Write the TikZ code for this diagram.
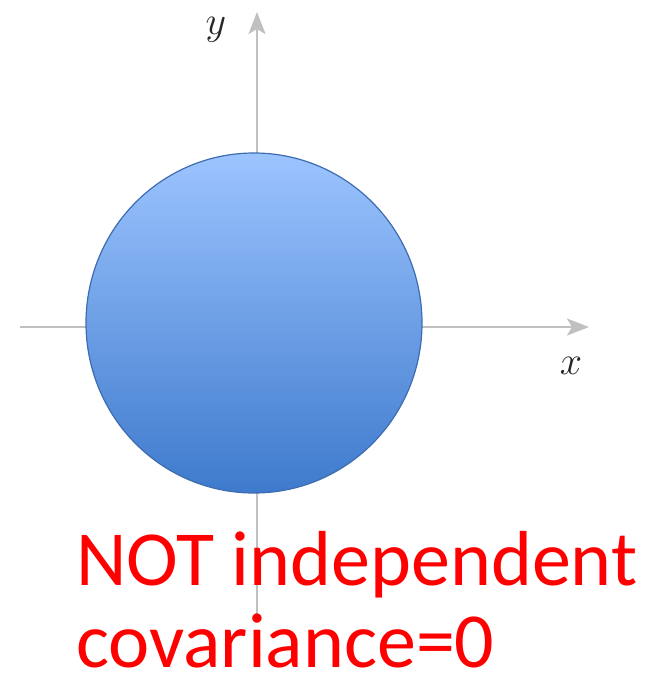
\RequirePackage{fix-cm}
\documentclass[tikz,border=0pt]{standalone}
\usepackage{fontspec}
\newfontfamily\calib{Carlito}
\usetikzlibrary{arrows.meta,shapes.geometric}
\definecolor{axisgray}{RGB}{192,192,192}
\definecolor{discTop}{RGB}{156,196,255}
\definecolor{discBot}{RGB}{62,122,204}
\definecolor{discEdge}{RGB}{62,108,176}
\begin{document}
\begin{tikzpicture}[x=1pt,y=-1pt,
  axisline/.style={draw=axisgray,line width=2.2pt,-{Stealth[length=22pt,width=17pt,inset=5pt]}},
  redtext/.style={text=red,font=\calib\fontsize{78}{78}\selectfont,anchor=base west,inner sep=0pt,text depth=0pt},
  axlabel/.style={font=\fontsize{40}{40}\selectfont,text=black!85,inner sep=0pt}]
\useasboundingbox (0,0) rectangle (662,673);
\coordinate (xs) at (20,327);
\coordinate (xe) at (589,327);
\coordinate (ys) at (257,620);
\coordinate (ye) at (257,12);
\draw[axisline] (xs) -- (xe);
\draw[axisline] (ys) -- (ye);
\node[draw=discEdge,line width=1.2pt,ellipse,minimum width=336pt,minimum height=340pt,inner sep=0pt,
  top color=discTop,bottom color=discBot] (disc) at (254,323) {};
\node[axlabel] (ylab) at (216,30) {$y$};
\node[axlabel] (xlab) at (571,366) {$x$};
\node[redtext] (t1) at (76,585) {NOT independent};
\node[redtext] (t2) at (76,667) {covariance=0};
\end{tikzpicture}
\end{document}
